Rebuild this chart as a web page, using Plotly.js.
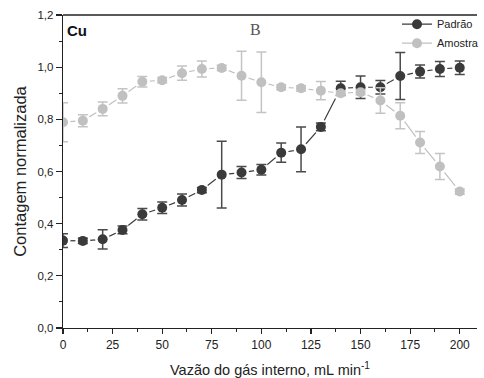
<!DOCTYPE html>
<html><head><meta charset="utf-8">
<script src="https://cdn.plot.ly/plotly-3.0.1.min.js"></script>
<style>html,body{margin:0;padding:0;background:#fff}#c{width:484px;height:378px}</style>
</head><body><div id="c"></div>
<script>
const vazao = [0,10,20,30,40,50,60,70,80,90,100,110,120,130,140,150,160,170,180,190,200];
const padrao = [0.335,0.334,0.340,0.376,0.436,0.461,0.491,0.529,0.588,0.596,0.607,0.672,0.685,0.771,0.919,0.923,0.923,0.966,0.983,0.993,0.998];
const padraoErr = [0.026,0.010,0.037,0.015,0.022,0.022,0.023,0.010,0.128,0.023,0.020,0.037,0.086,0.015,0.027,0.043,0.026,0.090,0.025,0.029,0.026];
const amostra = [0.789,0.795,0.840,0.890,0.944,0.950,0.977,0.993,0.997,0.967,0.942,0.923,0.919,0.910,0.900,0.904,0.872,0.814,0.711,0.619,0.523];
const amostraErr = [0.075,0.023,0.026,0.027,0.020,0.010,0.027,0.031,0.010,0.094,0.116,0.010,0.010,0.035,0.010,0.010,0.049,0.050,0.042,0.050,0.010];
const xTicks = [0,25,50,75,100,125,150,175,200];

const series = [
  {name:'Padrão', y:padrao, err:padraoErr, col:'#3a3a3a', ecol:'#4a4a4a'},
  {name:'Amostra', y:amostra, err:amostraErr, col:'#c0c0c0', ecol:'#c4c4c4'}
];
const traces = [];
series.forEach(s => traces.push({x:vazao, y:s.y, name:s.name, mode:'lines+markers', type:'scatter',
  line:{color:s.col, width:1.2}, marker:{color:s.col, size:10}, hoverinfo:'skip'}));
series.forEach(s => traces.push({x:vazao, y:s.y, mode:'markers', type:'scatter', showlegend:false,
  marker:{color:'#ffffff', size:15}, hoverinfo:'skip'}));
series.forEach(s => traces.push({x:vazao, y:s.y, mode:'markers', type:'scatter', showlegend:false,
  marker:{color:s.col, size:10},
  error_y:{type:'data', array:s.err, visible:true, color:s.ecol, thickness:1.5, width:5}, hoverinfo:'skip'}));

const layout = {
  width:484, height:378,
  margin:{l:63, r:0, t:15, b:50},
  paper_bgcolor:'#fff', plot_bgcolor:'#fff',
  separators:',.',
  font:{family:'Liberation Sans, Arial, sans-serif', size:11, color:'#222'},
  showlegend:true,
  legend:{x:0.807, y:1.017, xanchor:'left', yanchor:'top', bgcolor:'rgba(0,0,0,0)', borderwidth:0,
    font:{size:11, color:'#222'}, tracegroupgap:0, itemwidth:30},
  xaxis:{range:[0,208.7], tickvals:xTicks, ticks:'outside', ticklen:5, tickwidth:1.2, tickcolor:'#222',
    showline:true, linecolor:'#222', linewidth:1.3, mirror:false, showgrid:false, zeroline:false,
    minor:{dtick:12.5, tick0:0, ticks:'outside', ticklen:3, tickcolor:'#222', tickwidth:1, showgrid:false},
    title:{text:'Vazão do gás interno, mL min<sup>-1</sup>', font:{size:14.5, color:'#222'}, standoff:16},
    tickfont:{size:12}},
  yaxis:{range:[0,1.2], dtick:0.2, tick0:0, tickformat:'.1f', ticks:'outside', ticklen:6, tickwidth:1.2, tickcolor:'#222',
    showline:true, linecolor:'#222', linewidth:1.3, showgrid:false, zeroline:false,
    minor:{dtick:0.1, tick0:0, ticks:'outside', ticklen:3, tickcolor:'#222', tickwidth:1, showgrid:false},
    title:{text:'Contagem normalizada', font:{size:16.5, color:'#222'}, standoff:6},
    tickfont:{size:11.5}},
  shapes:[{type:'line', xref:'paper', yref:'paper', x0:0, x1:1, y0:1, y1:1, line:{color:'#222', width:1.3}}],
  annotations:[
    {text:'<b>Cu</b>', xref:'paper', yref:'paper', x:0.006, y:0.985, xanchor:'left', yanchor:'top', showarrow:false,
      font:{size:15, color:'#111', family:'Liberation Sans, Arial, sans-serif'}},
    {text:'B', xref:'paper', yref:'paper', x:0.465, y:0.988, xanchor:'center', yanchor:'top', showarrow:false,
      font:{size:16, color:'#555', family:'Liberation Serif, Times New Roman, serif'}}
  ]
};
Plotly.newPlot('c', traces, layout, {staticPlot:true, displayModeBar:false});
</script></body></html>
